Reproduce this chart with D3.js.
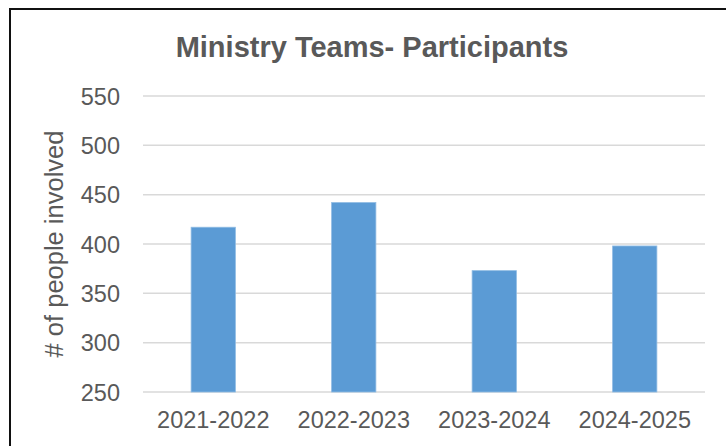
<!DOCTYPE html>
<html>
<head>
<meta charset="utf-8">
<script src="https://cdn.jsdelivr.net/npm/d3@7/dist/d3.min.js"></script>
<style>
  html, body { margin: 0; padding: 0; background: #fff; }
  svg { display: block; }
  text { font-family: "Liberation Sans", Arial, sans-serif; fill: #595959; }
</style>
</head>
<body>
<svg id="chart" width="726" height="446"></svg>
<script>
const title = "Ministry Teams- Participants";
const yAxisTitle = "# of people involved";
const categories = ["2021-2022", "2022-2023", "2023-2024", "2024-2025"];
const values = [417, 442, 373, 398];
const yTicks = [250, 300, 350, 400, 450, 500, 550];

const svg = d3.select("#chart");
const W = 726, H = 446;

// frame
svg.append("rect")
  .attr("x", 10).attr("y", 9)
  .attr("width", W + 20).attr("height", H + 20)
  .attr("fill", "#fff").attr("stroke", "#111").attr("stroke-width", 2);

const plot = { left: 143, right: 705, top: 96, bottom: 392 };

const x = d3.scaleBand()
  .domain(categories)
  .range([plot.left, plot.right])
  .paddingInner(0.685)
  .paddingOuter(0.3425);

const y = d3.scaleLinear()
  .domain([250, 550])
  .range([plot.bottom, plot.top]);

// gridlines
svg.append("g")
  .selectAll("line")
  .data(yTicks)
  .join("line")
  .attr("x1", plot.left).attr("x2", plot.right)
  .attr("y1", d => y(d)).attr("y2", d => y(d))
  .attr("stroke", "#d9d9d9").attr("stroke-width", 1.5);

// bars
svg.append("g")
  .selectAll("rect")
  .data(values)
  .join("rect")
  .attr("x", (d, i) => x(categories[i]))
  .attr("width", x.bandwidth())
  .attr("y", d => y(d))
  .attr("height", d => y(250) - y(d))
  .attr("fill", "#5b9bd5")
  .attr("stroke", "#8fbbe3").attr("stroke-width", 0.8);

// y axis labels
const yAxis = d3.axisLeft(y).tickValues(yTicks).tickSize(0).tickPadding(0);
const gy = svg.append("g").attr("transform", `translate(120,0)`).call(yAxis);
gy.select(".domain").remove();
gy.selectAll("text")
  .attr("font-size", 23.5)
  .attr("font-family", "Liberation Sans, Arial, sans-serif")
  .attr("fill", "#595959")
  .attr("dy", "0.35em");

// x axis labels
const xAxis = d3.axisBottom(x).tickSize(0).tickPadding(0);
const gx = svg.append("g").attr("transform", `translate(0,${plot.bottom})`).call(xAxis);
gx.select(".domain").remove();
gx.selectAll("text")
  .attr("font-size", 23.5)
  .attr("font-family", "Liberation Sans, Arial, sans-serif")
  .attr("fill", "#595959")
  .attr("dy", null)
  .attr("y", 36);

// title
svg.append("text")
  .attr("x", 372).attr("y", 57)
  .attr("text-anchor", "middle")
  .attr("font-size", 29)
  .attr("font-weight", "bold")
  .text(title);

// y axis title
svg.append("text")
  .attr("transform", `translate(63,${(plot.top + plot.bottom) / 2}) rotate(-90)`)
  .attr("text-anchor", "middle")
  .attr("font-size", 25.5)
  .text(yAxisTitle);
</script>
</body>
</html>
